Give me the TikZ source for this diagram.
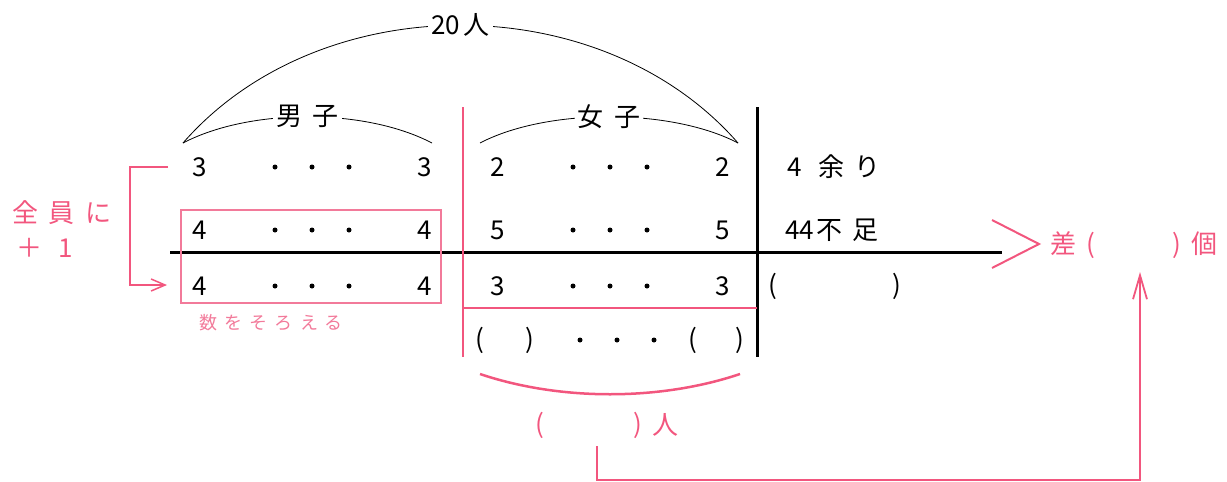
\documentclass[tikz,border=0pt]{standalone}
\usepackage{fontspec}
\newfontfamily\jp{Noto Sans CJK JP}[LetterSpace=40]
\newfontfamily\jpn{Noto Sans CJK JP}
\usetikzlibrary{arrows.meta,calc}
\definecolor{zurosa}{HTML}{F2567E}
\definecolor{zurosaclaro}{HTML}{F27A9A}
\tikzset{
  zumoji/.style={inner sep=0pt, font=\jp\fontsize{26}{30}\selectfont},
  zumojipink/.style={zumoji, text=zurosa},
  zumojipeq/.style={inner sep=0pt, font=\jp\fontsize{18}{22}\selectfont, text=zurosaclaro},
  zuten/.style={circle, fill=black, inner sep=0pt, minimum size=5pt},
  zuko/.style={draw=black, line width=0.8pt},
  zurotulo/.style={zumoji, fill=white, inner sep=3pt},
  zusenpink/.style={draw=zurosa, line width=2.5pt},
  zusenkuro/.style={draw=black, line width=3pt},
  zuya/.style={draw=zurosa, line width=1.5pt, -{Straight Barb[length=14pt,width=12pt]}},
  zuyanaga/.style={draw=zurosa, line width=1.8pt, -{Straight Barb[length=24pt,width=14pt]}},
}
\begin{document}
\begin{tikzpicture}[x=1pt,y=-1pt]
        \useasboundingbox (0,0) rectangle (1227,482);
        % ---------------- arcos ----------------
        \coordinate (a0) at (183,143);
        \coordinate (a1) at (432,143);
        \coordinate (a2) at (480,143);
        \coordinate (a3) at (738,143);
        \draw[zuko] (a0) .. controls (320,-14) and (601,-14) .. node[zurotulo] (nin20) {{\jpn 20}\hspace{4pt}人} (a3);
        \draw[zuko] (a0) .. controls (250,108) and (365,108) .. node[zurotulo] (danshi) {男子} (a1);
        \draw[zuko] (a2) .. controls (547,108) and (671,108) .. node[zurotulo] (joshi) {女子} (a3);
        % ---------------- linhas ----------------
        \draw[zusenkuro] (170,252) -- (1002,252);
        \draw[zusenpink] (463,107) -- (463,357);
        \draw[zusenkuro] (757,107) -- (757,357);
        \draw[zusenpink] (463,308) -- (757,308);
        \draw[draw=zurosaclaro, line width=1.3pt] (181,210) rectangle (441,303);
        % ---------------- numeros ----------------
        \foreach \nome/\y/\a/\b in {r1/167/3/2, r2/230/4/5, r3/286/4/3} {
          \node[zumoji] (\nome m1) at (200,\y) {\a};
          \node[zumoji] (\nome m2) at (425,\y) {\a};
          \node[zumoji] (\nome j1) at (498,\y) {\b};
          \node[zumoji] (\nome j2) at (723,\y) {\b};
          \foreach \x in {275,312,349,573,610,647} {\node[zuten] (t\nome\x) at (\x,\y) {};}
        }
        \node[zumoji] (k1) at (480,340) {(};
        \node[zumoji] (k2) at (530,340) {)};
        \node[zumoji] (k3) at (693,340) {(};
        \node[zumoji] (k4) at (740,340) {)};
        \foreach \x in {580,617,654} {\node[zuten] (tr4\x) at (\x,340) {};}
        % ---------------- coluna direita ----------------
        \node[zumoji] (amari) at (834,167) {4\hspace{16pt}余り};
        \node[zumoji] (fusoku) at (832,230) {{\jpn 44}\hspace{2pt}不足};
        \node[zumoji] (k5) at (773,286) {(};
        \node[zumoji] (k6) at (897,286) {)};
        \node[zumojipink] (sa) at (1050,245) [anchor=west] {差(};
        \node[zumojipink] (ko) at (1218,245) [anchor=east] {)個};
        \draw[zusenpink, line width=2pt] (992,220) -- (1039,244) -- (992,268);
        % ---------------- esquerda ----------------
        \node[zumojipink] (zenin) at (62,213) {全員に};
        \node[zumojipink] (plus) at (45,248) {＋ 1};
        \node[zumojipeq] (soroe) at (271,323) {数をそろえる};
        \coordinate (l0) at (168,167);
        \coordinate (l1) at (167,285);
        \draw[zuya] (l0) -- (130,167) |- (l1);
        % ---------------- embaixo ----------------
        \draw[zusenpink] (480,374) .. controls (560,401) and (660,401) .. (740,374);
        \node[zumojipink] (k7) at (540,425) {(};
        \node[zumojipink] (k8) at (638,425) {)};
        \node[zumojipink] (hito) at (665,425) {人};
        \coordinate (s0) at (597,446);
        \coordinate (s1) at (1140,272);
        \draw[zuyanaga] (s0) -- (597,480) -| (s1);
    \end{tikzpicture}
\end{document}
